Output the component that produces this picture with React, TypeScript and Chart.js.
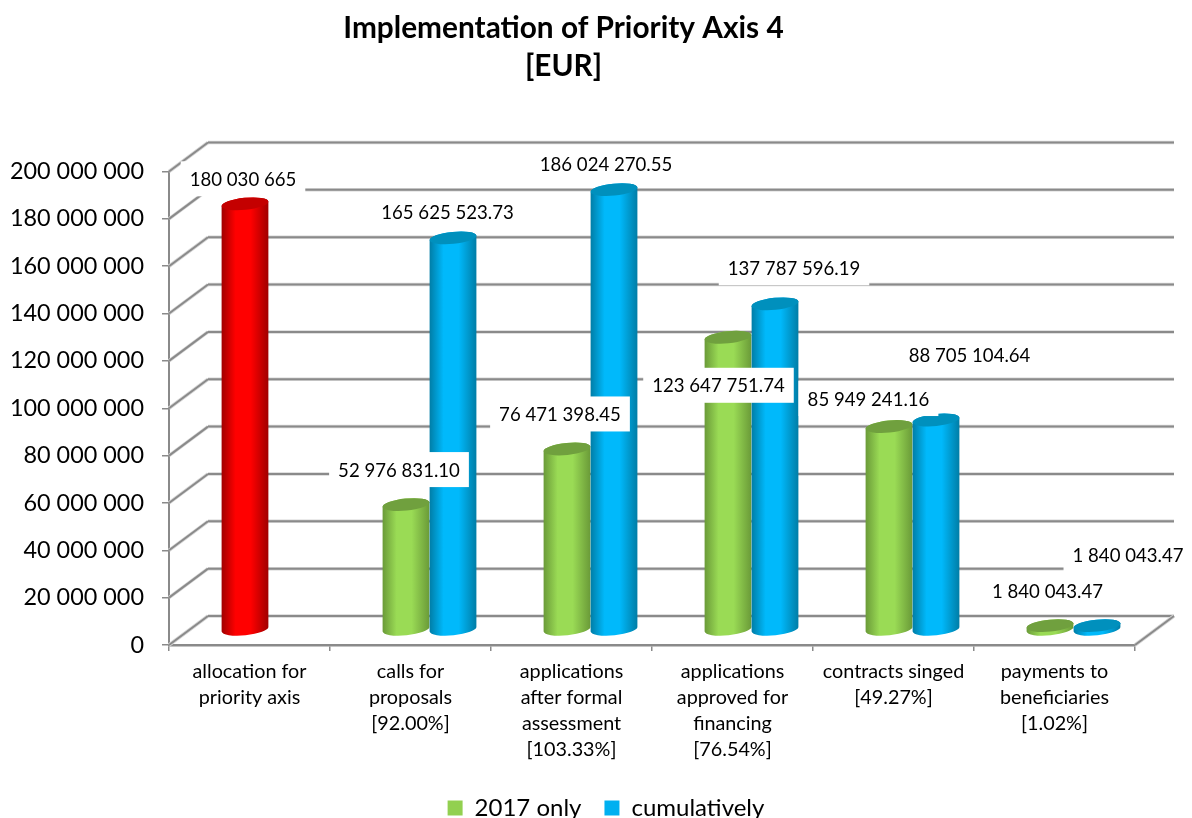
import React, { useEffect, useRef } from "react";
import { Chart, registerables } from "chart.js";

Chart.register(...registerables);

const categories: string[][] = [
  ["allocation for", "priority axis"],
  ["calls for", "proposals", "[92.00%]"],
  ["applications", "after formal", "assessment", "[103.33%]"],
  ["applications", "approved for", "financing", "[76.54%]"],
  ["contracts singed", "[49.27%]"],
  ["payments to", "beneficiaries", "[1.02%]"],
];
const only2017: number[] = [180030665, 52976831.1, 76471398.45, 123647751.74, 85949241.16, 1840043.47];
const cumulatively: (number | null)[] = [null, 165625523.73, 186024270.55, 137787596.19, 88705104.64, 1840043.47];
const only2017Labels = ["180 030 665", "52 976 831.10", "76 471 398.45", "123 647 751.74", "85 949 241.16", "1 840 043.47"];
const cumulativeLabels = ["", "165 625 523.73", "186 024 270.55", "137 787 596.19", "88 705 104.64", "1 840 043.47"];

// Where Excel had dragged the data labels, relative to each bar's value point.
const only2017LabelShift = [[17, -40], [12, -50], [12, -50], [9.5, 33], [-1.5, -43], [16.5, -50]];
const cumulativeLabelShift = [[0, 0], [13.5, -40.5], [11, -41], [38, -51], [52.5, -80], [50, -85.6]];

const FONT = "Lato, 'Open Sans', sans-serif";
const GRID = "#8a8a8a";
const GRID_SOFT = "#d6d6d6";
const DEPTH_X = 39;
const DEPTH_Y = -29;
const BAR_DX = 19;
const BAR_DY = -15;
const RY = 6;
const TILT = -0.1;

const palette = {
  green: { edge: "#6a9a38", mid: "#9adb55", cap: "#70a03e", legend: "#92d050" },
  blue: { edge: "#007da6", mid: "#00b9fb", cap: "#0090bd", legend: "#00b0f0" },
  red: { edge: "#a00000", mid: "#ff0000", cap: "#c40000", legend: "#ff0000" },
};

function softLine(ctx: CanvasRenderingContext2D, x1: number, y1: number, x2: number, y2: number) {
  ctx.lineCap = "butt";
  ctx.strokeStyle = GRID_SOFT;
  ctx.lineWidth = 3.5;
  ctx.beginPath();
  ctx.moveTo(x1, y1);
  ctx.lineTo(x2, y2);
  ctx.stroke();
  ctx.strokeStyle = GRID;
  ctx.lineWidth = 2;
  ctx.beginPath();
  ctx.moveTo(x1, y1);
  ctx.lineTo(x2, y2);
  ctx.stroke();
}

function cylinder(ctx: CanvasRenderingContext2D, cx: number, top: number, base: number, w: number, c: typeof palette.red) {
  const rx = w / 2;
  const g = ctx.createLinearGradient(cx - rx, 0, cx + rx, 0);
  g.addColorStop(0, c.edge);
  g.addColorStop(0.3, c.mid);
  g.addColorStop(0.62, c.mid);
  g.addColorStop(1, c.edge);
  ctx.fillStyle = g;
  ctx.beginPath();
  ctx.ellipse(cx, base, rx, RY, TILT, 0, Math.PI, false);
  ctx.ellipse(cx, top, rx, RY, TILT, Math.PI, Math.PI * 2, false);
  ctx.closePath();
  ctx.fill();
  ctx.fillStyle = c.cap;
  ctx.beginPath();
  ctx.ellipse(cx, top, rx, RY, TILT, 0, Math.PI * 2);
  ctx.fill();
}

const scene3d = {
  id: "scene3d",
  afterLayout(chart: any) {
    chart.titleBlock.left = 0;
    chart.titleBlock.right = 1127;
    chart.legend.left = 10;
    chart.legend.right = 1202;
  },
  beforeDatasetsDraw(chart: any) {
    const { ctx, chartArea: a, scales } = chart;
    ctx.save();
    for (const t of scales.y.ticks) {
      const y = scales.y.getPixelForValue(t.value);
      softLine(ctx, a.left, y, a.left + DEPTH_X, y + DEPTH_Y);
      softLine(ctx, a.left + DEPTH_X, y + DEPTH_Y, a.right + DEPTH_X, y + DEPTH_Y);
    }
    softLine(ctx, a.right, a.bottom, a.right + DEPTH_X, a.bottom + DEPTH_Y);
    ctx.restore();
  },
  beforeDatasetDraw() {
    return false;
  },
  afterDatasetsDraw(chart: any) {
    const { ctx } = chart;
    ctx.save();
    [0, 1].forEach((d) => {
      chart.getDatasetMeta(d).data.forEach((el: any, i: number) => {
        const p = el.getProps(["x", "y", "base", "width"], true);
        if (!Number.isFinite(p.y) || chart.data.datasets[d].data[i] == null) return;
        const c = d === 1 ? palette.blue : i === 0 ? palette.red : palette.green;
        cylinder(ctx, p.x + BAR_DX, p.y + BAR_DY, p.base + BAR_DY, p.width, c);
      });
    });
    ctx.font = `18.6px ${FONT}`;
    ctx.textAlign = "center";
    ctx.textBaseline = "middle";
    const sets = [
      { t: only2017Labels, s: only2017LabelShift },
      { t: cumulativeLabels, s: cumulativeLabelShift },
    ];
    sets.forEach((set, d) => {
      chart.getDatasetMeta(d).data.forEach((el: any, i: number) => {
        if (!set.t[i]) return;
        const p = el.getProps(["x", "y"], true);
        const x = p.x + set.s[i][0];
        const y = p.y + set.s[i][1];
        const w = ctx.measureText(set.t[i]).width + 18;
        ctx.fillStyle = "#ffffff";
        ctx.fillRect(x - w / 2, y - 17.5, w, 35);
        ctx.fillStyle = "#000000";
        ctx.fillText(set.t[i], x, y + 1);
      });
    });
    ctx.restore();
  },
};

export default function App() {
  const ref = useRef<HTMLCanvasElement | null>(null);
  useEffect(() => {
    const chart = new Chart(ref.current as HTMLCanvasElement, {
      type: "bar",
      data: {
        labels: categories as any,
        datasets: [
          {
            label: "2017 only",
            data: only2017,
            backgroundColor: only2017.map((_, i) => (i === 0 ? palette.red.legend : palette.green.legend)),
          },
          { label: "cumulatively", data: cumulatively as any, backgroundColor: palette.blue.legend },
        ],
      },
      options: {
        responsive: false,
        animation: false,
        layout: { padding: { left: 0, right: 57, top: 0, bottom: -12 } },
        datasets: { bar: { categoryPercentage: 0.584, barPercentage: 1 } },
        plugins: {
          title: {
            display: true,
            text: ["Implementation of Priority Axis 4", "[EUR]"],
            color: "#000000",
            font: { family: FONT, size: 29.8, weight: "bold", lineHeight: 1.284 },
            padding: { top: 9, bottom: 86 },
          },
          legend: {
            position: "bottom",
            labels: {
              boxWidth: 15,
              boxHeight: 15,
              padding: 23,
              color: "#000000",
              font: { family: FONT, size: 24 },
              generateLabels: (c: any) =>
                c.data.datasets.map((ds: any, i: number) => ({
                  text: ds.label,
                  fillStyle: i === 0 ? palette.green.legend : palette.blue.legend,
                  strokeStyle: "transparent",
                  lineWidth: 0,
                  datasetIndex: i,
                  fontColor: "#000000",
                })),
            },
          },
          tooltip: { enabled: false },
        },
        scales: {
          x: {
            offset: true,
            afterFit: (s: any) => {
              s.height = 128;
            },
            grid: { drawOnChartArea: false, drawTicks: true, tickLength: 6, color: GRID, offset: true, lineWidth: 1.5 },
            border: { color: GRID, width: 2.5 },
            ticks: {
              color: "#000000",
              autoSkip: false,
              maxRotation: 0,
              padding: 8,
              font: { family: FONT, size: 19.8, lineHeight: 1.31 },
            },
          },
          y: {
            min: 0,
            max: 200000000,
            afterFit: (s: any) => {
              s.width = 169;
            },
            grid: { drawOnChartArea: false, drawTicks: true, tickLength: 7, color: GRID, lineWidth: 1.5 },
            border: { color: GRID, width: 2 },
            ticks: {
              stepSize: 20000000,
              color: "#000000",
              padding: 18,
              font: { family: FONT, size: 23.4 },
              callback: (v: any) => String(v).replace(/\B(?=(\d{3})+$)/g, " "),
            },
          },
        },
      },
      plugins: [scene3d],
    } as any);
    return () => chart.destroy();
  }, []);
  return (
    <canvas
      ref={ref}
      width={1192}
      height={818}
      style={{ display: "block", position: "absolute", left: 0, top: 0, width: 1192, height: 818 }}
    />
  );
}
